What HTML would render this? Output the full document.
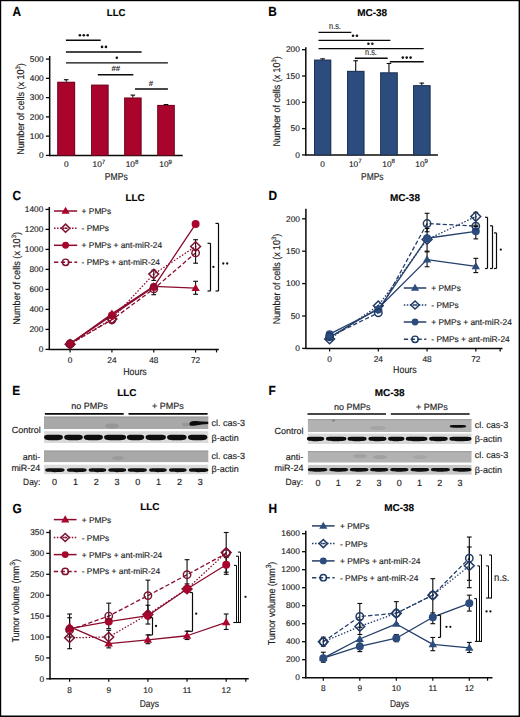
<!DOCTYPE html>
<html><head><meta charset="utf-8"><style>
html,body{margin:0;padding:0;background:#fff;}
svg{display:block;font-family:"Liberation Sans", sans-serif;}
text{stroke:#1c1c1c;stroke-width:0.15px;text-rendering:geometricPrecision;}
</style></head><body>
<svg width="520" height="717" viewBox="0 0 520 717">
<rect x="0" y="0" width="520" height="717" fill="#fff"/>
<g transform="translate(12.40,15.70) scale(0.9,1)"><text x="0" y="0" font-size="13.2" font-weight="bold" fill="#000">A</text></g>
<g transform="translate(116.10,16.40) scale(0.9666,1)"><text x="0" y="0" font-size="9.9" text-anchor="middle" font-weight="bold" fill="#000">LLC</text></g>
<line x1="49.70" y1="56.00" x2="49.70" y2="156.10" stroke="#0a0a0a" stroke-width="1.5" stroke-linecap="butt"/>
<line x1="49.10" y1="155.50" x2="182.70" y2="155.50" stroke="#0a0a0a" stroke-width="1.5" stroke-linecap="butt"/>
<line x1="45.90" y1="155.40" x2="49.70" y2="155.40" stroke="#0a0a0a" stroke-width="1.3" stroke-linecap="butt"/>
<text x="43.70" y="158.15" font-size="8.3" text-anchor="end" font-weight="normal" fill="#1c1c1c" >0</text>
<line x1="45.90" y1="136.14" x2="49.70" y2="136.14" stroke="#0a0a0a" stroke-width="1.3" stroke-linecap="butt"/>
<text x="43.70" y="138.89" font-size="8.3" text-anchor="end" font-weight="normal" fill="#1c1c1c" >100</text>
<line x1="45.90" y1="116.88" x2="49.70" y2="116.88" stroke="#0a0a0a" stroke-width="1.3" stroke-linecap="butt"/>
<text x="43.70" y="119.63" font-size="8.3" text-anchor="end" font-weight="normal" fill="#1c1c1c" >200</text>
<line x1="45.90" y1="97.62" x2="49.70" y2="97.62" stroke="#0a0a0a" stroke-width="1.3" stroke-linecap="butt"/>
<text x="43.70" y="100.37" font-size="8.3" text-anchor="end" font-weight="normal" fill="#1c1c1c" >300</text>
<line x1="45.90" y1="78.36" x2="49.70" y2="78.36" stroke="#0a0a0a" stroke-width="1.3" stroke-linecap="butt"/>
<text x="43.70" y="81.11" font-size="8.3" text-anchor="end" font-weight="normal" fill="#1c1c1c" >400</text>
<line x1="45.90" y1="59.10" x2="49.70" y2="59.10" stroke="#0a0a0a" stroke-width="1.3" stroke-linecap="butt"/>
<text x="43.70" y="61.85" font-size="8.3" text-anchor="end" font-weight="normal" fill="#1c1c1c" >500</text>
<rect x="57.30" y="81.83" width="17.80" height="73.57" fill="#a8042c" />
<rect x="57.75" y="82.28" width="16.90" height="73.12" fill="none" stroke="#5e0a1e" stroke-width="0.9" stroke-opacity="0.8"/>
<line x1="66.20" y1="81.83" x2="66.20" y2="79.71" stroke="#0a0a0a" stroke-width="1.1" stroke-linecap="butt"/>
<line x1="63.90" y1="79.71" x2="68.50" y2="79.71" stroke="#0a0a0a" stroke-width="1.1" stroke-linecap="butt"/>
<rect x="91.10" y="84.72" width="17.40" height="70.68" fill="#a8042c" />
<rect x="91.55" y="85.17" width="16.50" height="70.23" fill="none" stroke="#5e0a1e" stroke-width="0.9" stroke-opacity="0.8"/>
<rect x="124.20" y="97.62" width="17.30" height="57.78" fill="#a8042c" />
<rect x="124.65" y="98.07" width="16.40" height="57.33" fill="none" stroke="#5e0a1e" stroke-width="0.9" stroke-opacity="0.8"/>
<line x1="132.85" y1="97.62" x2="132.85" y2="95.12" stroke="#0a0a0a" stroke-width="1.1" stroke-linecap="butt"/>
<line x1="130.55" y1="95.12" x2="135.15" y2="95.12" stroke="#0a0a0a" stroke-width="1.1" stroke-linecap="butt"/>
<rect x="157.30" y="104.94" width="17.40" height="50.46" fill="#a8042c" />
<rect x="157.75" y="105.39" width="16.50" height="50.01" fill="none" stroke="#5e0a1e" stroke-width="0.9" stroke-opacity="0.8"/>
<line x1="166.00" y1="104.94" x2="166.00" y2="104.55" stroke="#0a0a0a" stroke-width="1.1" stroke-linecap="butt"/>
<line x1="163.70" y1="104.55" x2="168.30" y2="104.55" stroke="#0a0a0a" stroke-width="1.1" stroke-linecap="butt"/>
<text x="66.20" y="167.10" font-size="8.3" text-anchor="middle" font-weight="normal" fill="#1c1c1c" >0</text>
<text x="98.90" y="167.10" font-size="8.3" text-anchor="middle" fill="#1c1c1c">10<tspan dy="-3.3" font-size="6.14">7</tspan></text>
<text x="132.00" y="167.10" font-size="8.3" text-anchor="middle" fill="#1c1c1c">10<tspan dy="-3.3" font-size="6.14">8</tspan></text>
<text x="165.60" y="167.10" font-size="8.3" text-anchor="middle" fill="#1c1c1c">10<tspan dy="-3.3" font-size="6.14">9</tspan></text>
<g transform="translate(116.30,180.40) scale(0.8586,1)"><text x="0" y="0" font-size="10" text-anchor="middle" font-weight="normal" fill="#1c1c1c">PMPs</text></g>
<g transform="translate(23.90,154.70) rotate(-90) scale(0.9012,1)"><text x="0" y="0" font-size="10" fill="#1c1c1c">Number of cells (x 10<tspan dy="-3.8" font-size="6.50">3</tspan><tspan dy="3.8">)</tspan></text></g>
<line x1="65.90" y1="40.30" x2="100.70" y2="40.30" stroke="#0a0a0a" stroke-width="1.4" stroke-linecap="butt"/>
<circle cx="79.90" cy="35.20" r="1.3" fill="#111"/>
<circle cx="83.80" cy="35.20" r="1.3" fill="#111"/>
<circle cx="87.70" cy="35.20" r="1.3" fill="#111"/>
<line x1="65.90" y1="52.00" x2="141.60" y2="52.00" stroke="#0a0a0a" stroke-width="1.4" stroke-linecap="butt"/>
<circle cx="102.05" cy="46.90" r="1.3" fill="#111"/>
<circle cx="105.95" cy="46.90" r="1.3" fill="#111"/>
<line x1="65.90" y1="62.90" x2="167.90" y2="62.90" stroke="#0a0a0a" stroke-width="1.4" stroke-linecap="butt"/>
<circle cx="116.80" cy="57.70" r="1.3" fill="#111"/>
<line x1="97.80" y1="74.70" x2="133.30" y2="74.70" stroke="#0a0a0a" stroke-width="1.4" stroke-linecap="butt"/>
<text x="115.70" y="71.30" font-size="7.4" text-anchor="middle" font-weight="normal" fill="#0a0a0a" font-style="italic">##</text>
<line x1="135.00" y1="89.00" x2="167.90" y2="89.00" stroke="#0a0a0a" stroke-width="1.4" stroke-linecap="butt"/>
<text x="150.90" y="85.70" font-size="7.4" text-anchor="middle" font-weight="normal" fill="#0a0a0a" font-style="italic">#</text>
<g transform="translate(268.30,15.70) scale(0.9,1)"><text x="0" y="0" font-size="13.2" font-weight="bold" fill="#000">B</text></g>
<g transform="translate(372.20,16.40) scale(1.0100,1)"><text x="0" y="0" font-size="9.9" text-anchor="middle" font-weight="bold" fill="#000">MC-38</text></g>
<line x1="305.80" y1="47.20" x2="305.80" y2="155.50" stroke="#0a0a0a" stroke-width="1.5" stroke-linecap="butt"/>
<line x1="305.20" y1="154.90" x2="437.90" y2="154.90" stroke="#0a0a0a" stroke-width="1.5" stroke-linecap="butt"/>
<line x1="302.00" y1="154.90" x2="305.80" y2="154.90" stroke="#0a0a0a" stroke-width="1.3" stroke-linecap="butt"/>
<text x="299.80" y="157.65" font-size="8.3" text-anchor="end" font-weight="normal" fill="#1c1c1c" >0</text>
<line x1="302.00" y1="128.60" x2="305.80" y2="128.60" stroke="#0a0a0a" stroke-width="1.3" stroke-linecap="butt"/>
<text x="299.80" y="131.35" font-size="8.3" text-anchor="end" font-weight="normal" fill="#1c1c1c" >50</text>
<line x1="302.00" y1="102.30" x2="305.80" y2="102.30" stroke="#0a0a0a" stroke-width="1.3" stroke-linecap="butt"/>
<text x="299.80" y="105.05" font-size="8.3" text-anchor="end" font-weight="normal" fill="#1c1c1c" >100</text>
<line x1="302.00" y1="76.00" x2="305.80" y2="76.00" stroke="#0a0a0a" stroke-width="1.3" stroke-linecap="butt"/>
<text x="299.80" y="78.75" font-size="8.3" text-anchor="end" font-weight="normal" fill="#1c1c1c" >150</text>
<line x1="302.00" y1="49.70" x2="305.80" y2="49.70" stroke="#0a0a0a" stroke-width="1.3" stroke-linecap="butt"/>
<text x="299.80" y="52.45" font-size="8.3" text-anchor="end" font-weight="normal" fill="#1c1c1c" >200</text>
<rect x="314.00" y="59.69" width="17.20" height="95.21" fill="#2d4c7e" />
<rect x="314.45" y="60.14" width="16.30" height="94.76" fill="none" stroke="#1a2a48" stroke-width="0.9" stroke-opacity="0.8"/>
<line x1="322.60" y1="59.69" x2="322.60" y2="58.80" stroke="#0a0a0a" stroke-width="1.1" stroke-linecap="butt"/>
<line x1="320.30" y1="58.80" x2="324.90" y2="58.80" stroke="#0a0a0a" stroke-width="1.1" stroke-linecap="butt"/>
<rect x="347.00" y="70.90" width="17.40" height="84.00" fill="#2d4c7e" />
<rect x="347.45" y="71.35" width="16.50" height="83.55" fill="none" stroke="#1a2a48" stroke-width="0.9" stroke-opacity="0.8"/>
<line x1="355.70" y1="70.90" x2="355.70" y2="60.75" stroke="#0a0a0a" stroke-width="1.1" stroke-linecap="butt"/>
<line x1="353.40" y1="60.75" x2="358.00" y2="60.75" stroke="#0a0a0a" stroke-width="1.1" stroke-linecap="butt"/>
<rect x="380.20" y="72.42" width="17.50" height="82.48" fill="#2d4c7e" />
<rect x="380.65" y="72.87" width="16.60" height="82.03" fill="none" stroke="#1a2a48" stroke-width="0.9" stroke-opacity="0.8"/>
<line x1="388.95" y1="72.42" x2="388.95" y2="63.48" stroke="#0a0a0a" stroke-width="1.1" stroke-linecap="butt"/>
<line x1="386.65" y1="63.48" x2="391.25" y2="63.48" stroke="#0a0a0a" stroke-width="1.1" stroke-linecap="butt"/>
<rect x="413.10" y="85.20" width="17.40" height="69.70" fill="#2d4c7e" />
<rect x="413.55" y="85.66" width="16.50" height="69.25" fill="none" stroke="#1a2a48" stroke-width="0.9" stroke-opacity="0.8"/>
<line x1="421.80" y1="85.20" x2="421.80" y2="83.10" stroke="#0a0a0a" stroke-width="1.1" stroke-linecap="butt"/>
<line x1="419.50" y1="83.10" x2="424.10" y2="83.10" stroke="#0a0a0a" stroke-width="1.1" stroke-linecap="butt"/>
<text x="322.50" y="166.70" font-size="8.3" text-anchor="middle" font-weight="normal" fill="#1c1c1c" >0</text>
<text x="355.30" y="166.70" font-size="8.3" text-anchor="middle" fill="#1c1c1c">10<tspan dy="-3.3" font-size="6.14">7</tspan></text>
<text x="388.60" y="166.70" font-size="8.3" text-anchor="middle" fill="#1c1c1c">10<tspan dy="-3.3" font-size="6.14">8</tspan></text>
<text x="421.60" y="166.70" font-size="8.3" text-anchor="middle" fill="#1c1c1c">10<tspan dy="-3.3" font-size="6.14">9</tspan></text>
<g transform="translate(372.30,180.20) scale(0.8399,1)"><text x="0" y="0" font-size="10" text-anchor="middle" font-weight="normal" fill="#1c1c1c">PMPs</text></g>
<g transform="translate(280.10,146.60) rotate(-90) scale(0.8904,1)"><text x="0" y="0" font-size="10" fill="#1c1c1c">Number of cells (x 10<tspan dy="-3.8" font-size="6.50">3</tspan><tspan dy="3.8">)</tspan></text></g>
<line x1="318.50" y1="32.40" x2="351.30" y2="32.40" stroke="#0a0a0a" stroke-width="1.4" stroke-linecap="butt"/>
<g transform="translate(335.00,28.90) scale(0.8320,1)"><text x="0" y="0" font-size="8.8" text-anchor="middle" font-weight="normal" fill="#333">n.s.</text></g>
<line x1="318.50" y1="40.40" x2="390.40" y2="40.40" stroke="#0a0a0a" stroke-width="1.4" stroke-linecap="butt"/>
<circle cx="353.05" cy="35.80" r="1.3" fill="#111"/>
<circle cx="356.95" cy="35.80" r="1.3" fill="#111"/>
<line x1="318.50" y1="48.60" x2="423.70" y2="48.60" stroke="#0a0a0a" stroke-width="1.4" stroke-linecap="butt"/>
<circle cx="368.45" cy="43.80" r="1.3" fill="#111"/>
<circle cx="372.35" cy="43.80" r="1.3" fill="#111"/>
<line x1="354.90" y1="58.20" x2="387.70" y2="58.20" stroke="#0a0a0a" stroke-width="1.4" stroke-linecap="butt"/>
<g transform="translate(371.00,55.30) scale(0.8320,1)"><text x="0" y="0" font-size="8.8" text-anchor="middle" font-weight="normal" fill="#333">n.s.</text></g>
<line x1="389.80" y1="61.80" x2="423.70" y2="61.80" stroke="#0a0a0a" stroke-width="1.4" stroke-linecap="butt"/>
<circle cx="402.80" cy="57.60" r="1.3" fill="#111"/>
<circle cx="406.70" cy="57.60" r="1.3" fill="#111"/>
<circle cx="410.60" cy="57.60" r="1.3" fill="#111"/>
<g transform="translate(12.40,200.00) scale(0.9,1)"><text x="0" y="0" font-size="13.2" font-weight="bold" fill="#000">C</text></g>
<g transform="translate(135.00,200.80) scale(0.9978,1)"><text x="0" y="0" font-size="9.9" text-anchor="middle" font-weight="bold" fill="#000">LLC</text></g>
<line x1="49.30" y1="207.00" x2="49.30" y2="350.00" stroke="#0a0a0a" stroke-width="1.5" stroke-linecap="butt"/>
<line x1="48.70" y1="349.40" x2="218.80" y2="349.40" stroke="#0a0a0a" stroke-width="1.5" stroke-linecap="butt"/>
<line x1="45.50" y1="349.40" x2="49.30" y2="349.40" stroke="#0a0a0a" stroke-width="1.3" stroke-linecap="butt"/>
<text x="43.30" y="352.15" font-size="8.3" text-anchor="end" font-weight="normal" fill="#1c1c1c" >0</text>
<line x1="45.50" y1="329.40" x2="49.30" y2="329.40" stroke="#0a0a0a" stroke-width="1.3" stroke-linecap="butt"/>
<text x="43.30" y="332.15" font-size="8.3" text-anchor="end" font-weight="normal" fill="#1c1c1c" >200</text>
<line x1="45.50" y1="309.40" x2="49.30" y2="309.40" stroke="#0a0a0a" stroke-width="1.3" stroke-linecap="butt"/>
<text x="43.30" y="312.15" font-size="8.3" text-anchor="end" font-weight="normal" fill="#1c1c1c" >400</text>
<line x1="45.50" y1="289.40" x2="49.30" y2="289.40" stroke="#0a0a0a" stroke-width="1.3" stroke-linecap="butt"/>
<text x="43.30" y="292.15" font-size="8.3" text-anchor="end" font-weight="normal" fill="#1c1c1c" >600</text>
<line x1="45.50" y1="269.40" x2="49.30" y2="269.40" stroke="#0a0a0a" stroke-width="1.3" stroke-linecap="butt"/>
<text x="43.30" y="272.15" font-size="8.3" text-anchor="end" font-weight="normal" fill="#1c1c1c" >800</text>
<line x1="45.50" y1="249.40" x2="49.30" y2="249.40" stroke="#0a0a0a" stroke-width="1.3" stroke-linecap="butt"/>
<text x="43.30" y="252.15" font-size="8.3" text-anchor="end" font-weight="normal" fill="#1c1c1c" >1000</text>
<line x1="45.50" y1="229.40" x2="49.30" y2="229.40" stroke="#0a0a0a" stroke-width="1.3" stroke-linecap="butt"/>
<text x="43.30" y="232.15" font-size="8.3" text-anchor="end" font-weight="normal" fill="#1c1c1c" >1200</text>
<line x1="45.50" y1="209.40" x2="49.30" y2="209.40" stroke="#0a0a0a" stroke-width="1.3" stroke-linecap="butt"/>
<text x="43.30" y="212.15" font-size="8.3" text-anchor="end" font-weight="normal" fill="#1c1c1c" >1400</text>
<line x1="70.10" y1="349.40" x2="70.10" y2="352.40" stroke="#0a0a0a" stroke-width="1.2" stroke-linecap="butt"/>
<line x1="111.93" y1="349.40" x2="111.93" y2="352.40" stroke="#0a0a0a" stroke-width="1.2" stroke-linecap="butt"/>
<line x1="153.77" y1="349.40" x2="153.77" y2="352.40" stroke="#0a0a0a" stroke-width="1.2" stroke-linecap="butt"/>
<line x1="195.60" y1="349.40" x2="195.60" y2="352.40" stroke="#0a0a0a" stroke-width="1.2" stroke-linecap="butt"/>
<line x1="216.52" y1="349.40" x2="216.52" y2="352.40" stroke="#0a0a0a" stroke-width="1.2" stroke-linecap="butt"/>
<text x="70.10" y="363.30" font-size="8.3" text-anchor="middle" font-weight="normal" fill="#1c1c1c" >0</text>
<text x="111.93" y="363.30" font-size="8.3" text-anchor="middle" font-weight="normal" fill="#1c1c1c" >24</text>
<text x="153.77" y="363.30" font-size="8.3" text-anchor="middle" font-weight="normal" fill="#1c1c1c" >48</text>
<text x="195.60" y="363.30" font-size="8.3" text-anchor="middle" font-weight="normal" fill="#1c1c1c" >72</text>
<g transform="translate(135.00,374.80) scale(0.8848,1)"><text x="0" y="0" font-size="10" text-anchor="middle" font-weight="normal" fill="#1c1c1c">Hours</text></g>
<g transform="translate(20.00,324.70) rotate(-90) scale(0.9141,1)"><text x="0" y="0" font-size="10" fill="#1c1c1c">Number of cells (x 10<tspan dy="-3.8" font-size="6.50">3</tspan><tspan dy="3.8">)</tspan></text></g>
<polyline points="70.10,343.90 111.93,313.90 153.77,286.40 195.60,288.20" fill="none" stroke="#8a0c2e" stroke-width="1.3" stroke-linejoin="round"/>
<polyline points="70.10,344.20 111.93,318.90 153.77,274.10 195.60,246.50" fill="none" stroke="#8a0c2e" stroke-width="1.3" stroke-linejoin="round" stroke-dasharray="1.5 1.7"/>
<polyline points="70.10,343.60 111.93,315.40 153.77,286.90 195.60,224.10" fill="none" stroke="#8a0c2e" stroke-width="1.3" stroke-linejoin="round"/>
<polyline points="70.10,343.90 111.93,319.80 153.77,288.90 195.60,252.90" fill="none" stroke="#8a0c2e" stroke-width="1.3" stroke-linejoin="round" stroke-dasharray="4.3 2.3"/>
<line x1="153.77" y1="284.30" x2="153.77" y2="294.70" stroke="#0a0a0a" stroke-width="1.1" stroke-linecap="butt"/>
<line x1="151.37" y1="284.30" x2="156.17" y2="284.30" stroke="#0a0a0a" stroke-width="1.1" stroke-linecap="butt"/>
<line x1="151.37" y1="294.70" x2="156.17" y2="294.70" stroke="#0a0a0a" stroke-width="1.1" stroke-linecap="butt"/>
<line x1="195.60" y1="281.30" x2="195.60" y2="294.30" stroke="#0a0a0a" stroke-width="1.1" stroke-linecap="butt"/>
<line x1="193.20" y1="281.30" x2="198.00" y2="281.30" stroke="#0a0a0a" stroke-width="1.1" stroke-linecap="butt"/>
<line x1="193.20" y1="294.30" x2="198.00" y2="294.30" stroke="#0a0a0a" stroke-width="1.1" stroke-linecap="butt"/>
<line x1="153.77" y1="270.20" x2="153.77" y2="280.40" stroke="#0a0a0a" stroke-width="1.1" stroke-linecap="butt"/>
<line x1="151.37" y1="270.20" x2="156.17" y2="270.20" stroke="#0a0a0a" stroke-width="1.1" stroke-linecap="butt"/>
<line x1="151.37" y1="280.40" x2="156.17" y2="280.40" stroke="#0a0a0a" stroke-width="1.1" stroke-linecap="butt"/>
<line x1="195.60" y1="239.70" x2="195.60" y2="263.20" stroke="#0a0a0a" stroke-width="1.1" stroke-linecap="butt"/>
<line x1="193.20" y1="239.70" x2="198.00" y2="239.70" stroke="#0a0a0a" stroke-width="1.1" stroke-linecap="butt"/>
<line x1="193.20" y1="263.20" x2="198.00" y2="263.20" stroke="#0a0a0a" stroke-width="1.1" stroke-linecap="butt"/>
<line x1="195.60" y1="222.60" x2="195.60" y2="225.40" stroke="#0a0a0a" stroke-width="1.1" stroke-linecap="butt"/>
<line x1="193.20" y1="222.60" x2="198.00" y2="222.60" stroke="#0a0a0a" stroke-width="1.1" stroke-linecap="butt"/>
<line x1="193.20" y1="225.40" x2="198.00" y2="225.40" stroke="#0a0a0a" stroke-width="1.1" stroke-linecap="butt"/>
<polygon points="70.10,339.58 74.30,346.78 65.90,346.78" fill="#a8042c"/>
<polygon points="111.93,309.58 116.13,316.78 107.73,316.78" fill="#a8042c"/>
<polygon points="153.77,282.08 157.97,289.28 149.57,289.28" fill="#a8042c"/>
<polygon points="195.60,283.88 199.80,291.08 191.40,291.08" fill="#a8042c"/>
<polygon points="70.10,339.50 75.00,344.20 70.10,348.90 65.20,344.20" fill="none" stroke="#7c1230" stroke-width="1.5"/>
<circle cx="70.10" cy="344.20" r="0.9" fill="#7c1230"/>
<polygon points="111.93,314.20 116.83,318.90 111.93,323.60 107.03,318.90" fill="none" stroke="#7c1230" stroke-width="1.5"/>
<circle cx="111.93" cy="318.90" r="0.9" fill="#7c1230"/>
<polygon points="153.77,269.40 158.67,274.10 153.77,278.80 148.87,274.10" fill="none" stroke="#7c1230" stroke-width="1.5"/>
<circle cx="153.77" cy="274.10" r="0.9" fill="#7c1230"/>
<polygon points="195.60,241.80 200.50,246.50 195.60,251.20 190.70,246.50" fill="none" stroke="#7c1230" stroke-width="1.5"/>
<circle cx="195.60" cy="246.50" r="0.9" fill="#7c1230"/>
<circle cx="70.10" cy="343.60" r="4.00" fill="#a8042c"/>
<circle cx="111.93" cy="315.40" r="4.00" fill="#a8042c"/>
<circle cx="153.77" cy="286.90" r="4.00" fill="#a8042c"/>
<circle cx="195.60" cy="224.10" r="4.00" fill="#a8042c"/>
<circle cx="70.10" cy="343.90" r="3.70" fill="none" stroke="#7c1230" stroke-width="1.45"/>
<circle cx="111.93" cy="319.80" r="3.70" fill="none" stroke="#7c1230" stroke-width="1.45"/>
<circle cx="153.77" cy="288.90" r="3.70" fill="none" stroke="#7c1230" stroke-width="1.45"/>
<circle cx="195.60" cy="252.90" r="3.70" fill="none" stroke="#7c1230" stroke-width="1.45"/>
<line x1="54.00" y1="211.00" x2="77.20" y2="211.00" stroke="#8a0c2e" stroke-width="1.5" stroke-linecap="butt"/>
<polygon points="65.60,206.77 69.72,213.82 61.48,213.82" fill="#a8042c"/>
<text x="81.60" y="214.05" font-size="8.4" text-anchor="start" font-weight="normal" fill="#1c1c1c" >+ PMPs</text>
<line x1="54.00" y1="228.20" x2="77.20" y2="228.20" stroke="#8a0c2e" stroke-width="1.5" stroke-linecap="butt" stroke-dasharray="1.5 1.5"/>
<polygon points="65.60,224.16 69.81,228.20 65.60,232.24 61.39,228.20" fill="none" stroke="#7c1230" stroke-width="1.5"/>
<circle cx="65.60" cy="228.20" r="0.9" fill="#7c1230"/>
<text x="81.60" y="231.25" font-size="8.4" text-anchor="start" font-weight="normal" fill="#1c1c1c" >- PMPs</text>
<line x1="54.00" y1="245.30" x2="77.20" y2="245.30" stroke="#8a0c2e" stroke-width="1.5" stroke-linecap="butt"/>
<circle cx="65.60" cy="245.30" r="3.44" fill="#a8042c"/>
<text x="81.60" y="248.35" font-size="8.4" text-anchor="start" font-weight="normal" fill="#1c1c1c" >+ PMPs + ant-miR-24</text>
<line x1="54.00" y1="262.30" x2="77.20" y2="262.30" stroke="#8a0c2e" stroke-width="1.5" stroke-linecap="butt" stroke-dasharray="4.3 2.5"/>
<circle cx="65.60" cy="262.30" r="3.18" fill="none" stroke="#7c1230" stroke-width="1.45"/>
<text x="81.60" y="265.35" font-size="8.4" text-anchor="start" font-weight="normal" fill="#1c1c1c" >- PMPs + ant-miR-24</text>
<line x1="210.50" y1="243.30" x2="210.50" y2="291.00" stroke="#0a0a0a" stroke-width="1.2" stroke-linecap="butt"/>
<line x1="207.50" y1="243.30" x2="210.50" y2="243.30" stroke="#0a0a0a" stroke-width="1.2" stroke-linecap="butt"/>
<line x1="207.50" y1="291.00" x2="210.50" y2="291.00" stroke="#0a0a0a" stroke-width="1.2" stroke-linecap="butt"/>
<circle cx="213.40" cy="266.90" r="1.15" fill="#111"/>
<line x1="218.50" y1="223.40" x2="218.50" y2="291.00" stroke="#0a0a0a" stroke-width="1.2" stroke-linecap="butt"/>
<line x1="215.50" y1="223.40" x2="218.50" y2="223.40" stroke="#0a0a0a" stroke-width="1.2" stroke-linecap="butt"/>
<line x1="215.50" y1="291.00" x2="218.50" y2="291.00" stroke="#0a0a0a" stroke-width="1.2" stroke-linecap="butt"/>
<circle cx="223.30" cy="263.50" r="1.15" fill="#111"/>
<circle cx="227.20" cy="263.50" r="1.15" fill="#111"/>
<g transform="translate(268.50,200.40) scale(0.9,1)"><text x="0" y="0" font-size="13.2" font-weight="bold" fill="#000">D</text></g>
<g transform="translate(405.00,201.00) scale(1.0100,1)"><text x="0" y="0" font-size="9.9" text-anchor="middle" font-weight="bold" fill="#000">MC-38</text></g>
<line x1="305.90" y1="208.70" x2="305.90" y2="349.00" stroke="#0a0a0a" stroke-width="1.5" stroke-linecap="butt"/>
<line x1="305.30" y1="348.40" x2="502.50" y2="348.40" stroke="#0a0a0a" stroke-width="1.5" stroke-linecap="butt"/>
<line x1="302.10" y1="348.40" x2="305.90" y2="348.40" stroke="#0a0a0a" stroke-width="1.3" stroke-linecap="butt"/>
<text x="299.90" y="351.15" font-size="8.3" text-anchor="end" font-weight="normal" fill="#1c1c1c" >0</text>
<line x1="302.10" y1="316.00" x2="305.90" y2="316.00" stroke="#0a0a0a" stroke-width="1.3" stroke-linecap="butt"/>
<text x="299.90" y="318.75" font-size="8.3" text-anchor="end" font-weight="normal" fill="#1c1c1c" >50</text>
<line x1="302.10" y1="283.60" x2="305.90" y2="283.60" stroke="#0a0a0a" stroke-width="1.3" stroke-linecap="butt"/>
<text x="299.90" y="286.35" font-size="8.3" text-anchor="end" font-weight="normal" fill="#1c1c1c" >100</text>
<line x1="302.10" y1="251.20" x2="305.90" y2="251.20" stroke="#0a0a0a" stroke-width="1.3" stroke-linecap="butt"/>
<text x="299.90" y="253.95" font-size="8.3" text-anchor="end" font-weight="normal" fill="#1c1c1c" >150</text>
<line x1="302.10" y1="218.80" x2="305.90" y2="218.80" stroke="#0a0a0a" stroke-width="1.3" stroke-linecap="butt"/>
<text x="299.90" y="221.55" font-size="8.3" text-anchor="end" font-weight="normal" fill="#1c1c1c" >200</text>
<line x1="329.60" y1="348.40" x2="329.60" y2="351.40" stroke="#0a0a0a" stroke-width="1.2" stroke-linecap="butt"/>
<line x1="378.33" y1="348.40" x2="378.33" y2="351.40" stroke="#0a0a0a" stroke-width="1.2" stroke-linecap="butt"/>
<line x1="427.07" y1="348.40" x2="427.07" y2="351.40" stroke="#0a0a0a" stroke-width="1.2" stroke-linecap="butt"/>
<line x1="475.80" y1="348.40" x2="475.80" y2="351.40" stroke="#0a0a0a" stroke-width="1.2" stroke-linecap="butt"/>
<line x1="500.17" y1="348.40" x2="500.17" y2="351.40" stroke="#0a0a0a" stroke-width="1.2" stroke-linecap="butt"/>
<text x="329.60" y="362.00" font-size="8.3" text-anchor="middle" font-weight="normal" fill="#1c1c1c" >0</text>
<text x="378.33" y="362.00" font-size="8.3" text-anchor="middle" font-weight="normal" fill="#1c1c1c" >24</text>
<text x="427.07" y="362.00" font-size="8.3" text-anchor="middle" font-weight="normal" fill="#1c1c1c" >48</text>
<text x="475.80" y="362.00" font-size="8.3" text-anchor="middle" font-weight="normal" fill="#1c1c1c" >72</text>
<g transform="translate(404.90,373.00) scale(0.8848,1)"><text x="0" y="0" font-size="10" text-anchor="middle" font-weight="normal" fill="#1c1c1c">Hours</text></g>
<g transform="translate(280.10,324.30) rotate(-90) scale(0.8924,1)"><text x="0" y="0" font-size="10" fill="#1c1c1c">Number of cells (x 10<tspan dy="-3.8" font-size="6.50">3</tspan><tspan dy="3.8">)</tspan></text></g>
<polyline points="329.60,337.38 378.33,308.22 427.07,259.62 475.80,266.43" fill="none" stroke="#243e6a" stroke-width="1.3" stroke-linejoin="round"/>
<polyline points="329.60,339.00 378.33,305.63 427.07,239.54 475.80,216.53" fill="none" stroke="#243e6a" stroke-width="1.3" stroke-linejoin="round" stroke-dasharray="1.5 1.7"/>
<polyline points="329.60,334.14 378.33,309.52 427.07,238.24 475.80,231.31" fill="none" stroke="#243e6a" stroke-width="1.3" stroke-linejoin="round"/>
<polyline points="329.60,336.74 378.33,312.76 427.07,223.53 475.80,226.12" fill="none" stroke="#243e6a" stroke-width="1.3" stroke-linejoin="round" stroke-dasharray="4.3 2.3"/>
<line x1="427.07" y1="251.85" x2="427.07" y2="266.75" stroke="#0a0a0a" stroke-width="1.1" stroke-linecap="butt"/>
<line x1="424.67" y1="251.85" x2="429.47" y2="251.85" stroke="#0a0a0a" stroke-width="1.1" stroke-linecap="butt"/>
<line x1="424.67" y1="266.75" x2="429.47" y2="266.75" stroke="#0a0a0a" stroke-width="1.1" stroke-linecap="butt"/>
<line x1="475.80" y1="258.33" x2="475.80" y2="272.58" stroke="#0a0a0a" stroke-width="1.1" stroke-linecap="butt"/>
<line x1="473.40" y1="258.33" x2="478.20" y2="258.33" stroke="#0a0a0a" stroke-width="1.1" stroke-linecap="butt"/>
<line x1="473.40" y1="272.58" x2="478.20" y2="272.58" stroke="#0a0a0a" stroke-width="1.1" stroke-linecap="butt"/>
<line x1="475.80" y1="212.32" x2="475.80" y2="225.28" stroke="#0a0a0a" stroke-width="1.1" stroke-linecap="butt"/>
<line x1="473.40" y1="212.32" x2="478.20" y2="212.32" stroke="#0a0a0a" stroke-width="1.1" stroke-linecap="butt"/>
<line x1="473.40" y1="225.28" x2="478.20" y2="225.28" stroke="#0a0a0a" stroke-width="1.1" stroke-linecap="butt"/>
<line x1="427.07" y1="228.52" x2="427.07" y2="251.20" stroke="#0a0a0a" stroke-width="1.1" stroke-linecap="butt"/>
<line x1="424.67" y1="228.52" x2="429.47" y2="228.52" stroke="#0a0a0a" stroke-width="1.1" stroke-linecap="butt"/>
<line x1="424.67" y1="251.20" x2="429.47" y2="251.20" stroke="#0a0a0a" stroke-width="1.1" stroke-linecap="butt"/>
<line x1="475.80" y1="226.58" x2="475.80" y2="238.89" stroke="#0a0a0a" stroke-width="1.1" stroke-linecap="butt"/>
<line x1="473.40" y1="226.58" x2="478.20" y2="226.58" stroke="#0a0a0a" stroke-width="1.1" stroke-linecap="butt"/>
<line x1="473.40" y1="238.89" x2="478.20" y2="238.89" stroke="#0a0a0a" stroke-width="1.1" stroke-linecap="butt"/>
<line x1="427.07" y1="213.29" x2="427.07" y2="231.76" stroke="#0a0a0a" stroke-width="1.1" stroke-linecap="butt"/>
<line x1="424.67" y1="213.29" x2="429.47" y2="213.29" stroke="#0a0a0a" stroke-width="1.1" stroke-linecap="butt"/>
<line x1="424.67" y1="231.76" x2="429.47" y2="231.76" stroke="#0a0a0a" stroke-width="1.1" stroke-linecap="butt"/>
<polygon points="329.60,333.06 333.80,340.26 325.40,340.26" fill="#2d4c7e"/>
<polygon points="378.33,303.90 382.53,311.10 374.13,311.10" fill="#2d4c7e"/>
<polygon points="427.07,255.30 431.27,262.50 422.87,262.50" fill="#2d4c7e"/>
<polygon points="475.80,262.11 480.00,269.31 471.60,269.31" fill="#2d4c7e"/>
<polygon points="329.60,334.30 334.50,339.00 329.60,343.70 324.70,339.00" fill="none" stroke="#1f3a66" stroke-width="1.5"/>
<circle cx="329.60" cy="339.00" r="0.9" fill="#1f3a66"/>
<polygon points="378.33,300.93 383.23,305.63 378.33,310.33 373.43,305.63" fill="none" stroke="#1f3a66" stroke-width="1.5"/>
<circle cx="378.33" cy="305.63" r="0.9" fill="#1f3a66"/>
<polygon points="427.07,234.84 431.97,239.54 427.07,244.24 422.17,239.54" fill="none" stroke="#1f3a66" stroke-width="1.5"/>
<circle cx="427.07" cy="239.54" r="0.9" fill="#1f3a66"/>
<polygon points="475.80,211.83 480.70,216.53 475.80,221.23 470.90,216.53" fill="none" stroke="#1f3a66" stroke-width="1.5"/>
<circle cx="475.80" cy="216.53" r="0.9" fill="#1f3a66"/>
<circle cx="329.60" cy="334.14" r="4.00" fill="#2d4c7e"/>
<circle cx="378.33" cy="309.52" r="4.00" fill="#2d4c7e"/>
<circle cx="427.07" cy="238.24" r="4.00" fill="#2d4c7e"/>
<circle cx="475.80" cy="231.31" r="4.00" fill="#2d4c7e"/>
<circle cx="329.60" cy="336.74" r="3.70" fill="none" stroke="#1f3a66" stroke-width="1.45"/>
<circle cx="378.33" cy="312.76" r="3.70" fill="none" stroke="#1f3a66" stroke-width="1.45"/>
<circle cx="427.07" cy="223.53" r="3.70" fill="none" stroke="#1f3a66" stroke-width="1.45"/>
<circle cx="475.80" cy="226.12" r="3.70" fill="none" stroke="#1f3a66" stroke-width="1.45"/>
<line x1="403.80" y1="288.00" x2="426.30" y2="288.00" stroke="#243e6a" stroke-width="1.5" stroke-linecap="butt"/>
<polygon points="415.05,283.77 419.17,290.82 410.93,290.82" fill="#2d4c7e"/>
<text x="431.30" y="291.05" font-size="8.4" text-anchor="start" font-weight="normal" fill="#1c1c1c" >+ PMPs</text>
<line x1="403.80" y1="305.00" x2="426.30" y2="305.00" stroke="#243e6a" stroke-width="1.5" stroke-linecap="butt" stroke-dasharray="1.5 1.5"/>
<polygon points="415.05,300.96 419.26,305.00 415.05,309.04 410.84,305.00" fill="none" stroke="#1f3a66" stroke-width="1.5"/>
<circle cx="415.05" cy="305.00" r="0.9" fill="#1f3a66"/>
<text x="431.30" y="308.05" font-size="8.4" text-anchor="start" font-weight="normal" fill="#1c1c1c" >- PMPs</text>
<line x1="403.80" y1="322.00" x2="426.30" y2="322.00" stroke="#243e6a" stroke-width="1.5" stroke-linecap="butt"/>
<circle cx="415.05" cy="322.00" r="3.44" fill="#2d4c7e"/>
<text x="431.30" y="325.05" font-size="8.4" text-anchor="start" font-weight="normal" fill="#1c1c1c" >+ PMPs + ant-miR-24</text>
<line x1="403.80" y1="339.30" x2="426.30" y2="339.30" stroke="#243e6a" stroke-width="1.5" stroke-linecap="butt" stroke-dasharray="4.3 2.5"/>
<circle cx="415.05" cy="339.30" r="3.18" fill="none" stroke="#1f3a66" stroke-width="1.45"/>
<text x="431.30" y="342.35" font-size="8.4" text-anchor="start" font-weight="normal" fill="#1c1c1c" >- PMPs + ant-miR-24</text>
<line x1="487.50" y1="217.30" x2="487.50" y2="268.50" stroke="#0a0a0a" stroke-width="1.2" stroke-linecap="butt"/>
<line x1="485.00" y1="217.30" x2="487.50" y2="217.30" stroke="#0a0a0a" stroke-width="1.2" stroke-linecap="butt"/>
<line x1="485.00" y1="268.50" x2="487.50" y2="268.50" stroke="#0a0a0a" stroke-width="1.2" stroke-linecap="butt"/>
<line x1="492.50" y1="225.80" x2="492.50" y2="268.50" stroke="#0a0a0a" stroke-width="1.2" stroke-linecap="butt"/>
<line x1="490.00" y1="225.80" x2="492.50" y2="225.80" stroke="#0a0a0a" stroke-width="1.2" stroke-linecap="butt"/>
<line x1="490.00" y1="268.50" x2="492.50" y2="268.50" stroke="#0a0a0a" stroke-width="1.2" stroke-linecap="butt"/>
<line x1="496.50" y1="232.90" x2="496.50" y2="268.50" stroke="#0a0a0a" stroke-width="1.2" stroke-linecap="butt"/>
<line x1="494.00" y1="232.90" x2="496.50" y2="232.90" stroke="#0a0a0a" stroke-width="1.2" stroke-linecap="butt"/>
<line x1="494.00" y1="268.50" x2="496.50" y2="268.50" stroke="#0a0a0a" stroke-width="1.2" stroke-linecap="butt"/>
<circle cx="500.80" cy="249.60" r="1.15" fill="#111"/>
<g transform="translate(12.30,395.20) scale(0.9,1)"><text x="0" y="0" font-size="13.2" font-weight="bold" fill="#000">E</text></g>
<g transform="translate(126.80,395.60) scale(0.9978,1)"><text x="0" y="0" font-size="9.9" text-anchor="middle" font-weight="bold" fill="#000">LLC</text></g>
<text x="89.60" y="409.00" font-size="9" text-anchor="middle" font-weight="normal" fill="#1c1c1c" >no PMPs</text>
<text x="167.80" y="409.40" font-size="9" text-anchor="middle" font-weight="normal" fill="#1c1c1c" >+ PMPs</text>
<line x1="44.80" y1="413.80" x2="123.70" y2="413.80" stroke="#0a0a0a" stroke-width="1.7" stroke-linecap="butt"/>
<line x1="128.50" y1="413.90" x2="207.60" y2="413.90" stroke="#0a0a0a" stroke-width="1.7" stroke-linecap="butt"/>
<rect x="44.00" y="416.60" width="164.30" height="12.40" fill="#a8a8a8" />
<rect x="44.00" y="416.60" width="164.30" height="1.00" fill="#9a9a9a" />
<rect x="44.00" y="431.20" width="164.30" height="11.80" fill="#dadada" />
<rect x="44.00" y="450.60" width="164.30" height="11.50" fill="#a8a8a8" />
<rect x="44.00" y="450.60" width="164.30" height="1.00" fill="#9a9a9a" />
<rect x="44.00" y="464.70" width="164.30" height="9.50" fill="#dadada" />
<path d="M44.10,437.30 C44.10,434.44 46.10,434.70 53.50,434.70 C60.90,434.70 62.90,434.44 62.90,437.30 C62.90,440.00 59.90,440.30 53.50,440.30 C47.10,440.30 44.10,440.00 44.10,437.30 Z" fill="#0e0e0e"/>
<path d="M64.20,437.30 C64.20,434.44 66.20,434.70 73.50,434.70 C80.80,434.70 82.80,434.44 82.80,437.30 C82.80,440.00 79.80,440.30 73.50,440.30 C67.20,440.30 64.20,440.00 64.20,437.30 Z" fill="#0e0e0e"/>
<path d="M83.80,437.30 C83.80,434.44 85.80,434.70 93.35,434.70 C100.90,434.70 102.90,434.44 102.90,437.30 C102.90,440.00 99.90,440.30 93.35,440.30 C86.80,440.30 83.80,440.00 83.80,437.30 Z" fill="#0e0e0e"/>
<path d="M104.10,437.30 C104.10,434.44 106.10,434.70 115.10,434.70 C124.10,434.70 126.10,434.44 126.10,437.30 C126.10,440.00 123.10,440.30 115.10,440.30 C107.10,440.30 104.10,440.00 104.10,437.30 Z" fill="#0e0e0e"/>
<path d="M126.90,437.30 C126.90,434.44 128.90,434.70 135.55,434.70 C142.20,434.70 144.20,434.44 144.20,437.30 C144.20,440.00 141.20,440.30 135.55,440.30 C129.90,440.30 126.90,440.00 126.90,437.30 Z" fill="#0e0e0e"/>
<path d="M145.60,437.30 C145.60,434.44 147.60,434.70 155.75,434.70 C163.90,434.70 165.90,434.44 165.90,437.30 C165.90,440.00 162.90,440.30 155.75,440.30 C148.60,440.30 145.60,440.00 145.60,437.30 Z" fill="#0e0e0e"/>
<path d="M167.10,437.30 C167.10,434.44 169.10,434.70 176.85,434.70 C184.60,434.70 186.60,434.44 186.60,437.30 C186.60,440.00 183.60,440.30 176.85,440.30 C170.10,440.30 167.10,440.00 167.10,437.30 Z" fill="#0e0e0e"/>
<path d="M188.00,437.30 C188.00,434.44 190.00,434.70 197.70,434.70 C205.40,434.70 207.40,434.44 207.40,437.30 C207.40,440.00 204.40,440.30 197.70,440.30 C191.00,440.30 188.00,440.00 188.00,437.30 Z" fill="#0e0e0e"/>
<path d="M45.20,470.10 C45.20,468.01 47.20,468.20 54.85,468.20 C62.50,468.20 64.50,468.01 64.50,470.10 C64.50,471.99 61.50,472.20 54.85,472.20 C48.20,472.20 45.20,471.99 45.20,470.10 Z" fill="#101010"/>
<path d="M67.00,470.10 C67.00,468.01 69.00,468.20 76.80,468.20 C84.60,468.20 86.60,468.01 86.60,470.10 C86.60,471.99 83.60,472.20 76.80,472.20 C70.00,472.20 67.00,471.99 67.00,470.10 Z" fill="#101010"/>
<path d="M88.70,470.10 C88.70,468.01 90.70,468.20 97.45,468.20 C104.20,468.20 106.20,468.01 106.20,470.10 C106.20,471.99 103.20,472.20 97.45,472.20 C91.70,472.20 88.70,471.99 88.70,470.10 Z" fill="#101010"/>
<path d="M108.30,470.10 C108.30,468.01 110.30,468.20 117.20,468.20 C124.10,468.20 126.10,468.01 126.10,470.10 C126.10,471.99 123.10,472.20 117.20,472.20 C111.30,472.20 108.30,471.99 108.30,470.10 Z" fill="#101010"/>
<path d="M127.80,470.10 C127.80,468.01 129.80,468.20 137.30,468.20 C144.80,468.20 146.80,468.01 146.80,470.10 C146.80,471.99 143.80,472.20 137.30,472.20 C130.80,472.20 127.80,471.99 127.80,470.10 Z" fill="#101010"/>
<path d="M149.10,470.10 C149.10,468.01 151.10,468.20 157.90,468.20 C164.70,468.20 166.70,468.01 166.70,470.10 C166.70,471.99 163.70,472.20 157.90,472.20 C152.10,472.20 149.10,471.99 149.10,470.10 Z" fill="#101010"/>
<path d="M169.00,470.10 C169.00,468.01 171.00,468.20 177.80,468.20 C184.60,468.20 186.60,468.01 186.60,470.10 C186.60,471.99 183.60,472.20 177.80,472.20 C172.00,472.20 169.00,471.99 169.00,470.10 Z" fill="#101010"/>
<path d="M188.90,470.10 C188.90,468.01 190.90,468.20 198.60,468.20 C206.30,468.20 208.30,468.01 208.30,470.10 C208.30,471.99 205.30,472.20 198.60,472.20 C191.90,472.20 188.90,471.99 188.90,470.10 Z" fill="#101010"/>
<path d="M189.3,424.2 C189.3,421.6 191.8,420.8 195.8,421.0 C200,421.3 204,421.6 208.2,421.7 L208.2,424.1 C204,424.3 200,425.0 195.8,425.5 C191.8,426.0 189.3,426.0 189.3,424.2 Z" fill="#0d0d0d"/><ellipse cx="186" cy="424.5" rx="4" ry="1.8" fill="#7a7a7a" opacity="0.4"/>
<ellipse cx="112.00" cy="426.00" rx="7" ry="2.5" fill="#7a7a7a" opacity="0.4"/>
<ellipse cx="118.00" cy="458.00" rx="6" ry="2" fill="#7a7a7a" opacity="0.3"/>
<text x="11.80" y="433.10" font-size="9" text-anchor="start" font-weight="normal" fill="#1c1c1c" >Control</text>
<text x="40.30" y="460.00" font-size="9" text-anchor="end" font-weight="normal" fill="#1c1c1c" >anti-</text>
<text x="40.40" y="470.60" font-size="9" text-anchor="end" font-weight="normal" fill="#1c1c1c" >miR-24</text>
<g transform="translate(23.10,484.90) scale(0.9295,1)"><text x="0" y="0" font-size="9" text-anchor="start" font-weight="normal" fill="#1c1c1c">Day:</text></g>
<text x="54.60" y="485.20" font-size="9" text-anchor="middle" font-weight="normal" fill="#1c1c1c" >0</text>
<text x="75.40" y="485.20" font-size="9" text-anchor="middle" font-weight="normal" fill="#1c1c1c" >1</text>
<text x="96.20" y="485.20" font-size="9" text-anchor="middle" font-weight="normal" fill="#1c1c1c" >2</text>
<text x="117.00" y="485.20" font-size="9" text-anchor="middle" font-weight="normal" fill="#1c1c1c" >3</text>
<text x="137.80" y="485.20" font-size="9" text-anchor="middle" font-weight="normal" fill="#1c1c1c" >0</text>
<text x="158.60" y="485.20" font-size="9" text-anchor="middle" font-weight="normal" fill="#1c1c1c" >1</text>
<text x="179.40" y="485.20" font-size="9" text-anchor="middle" font-weight="normal" fill="#1c1c1c" >2</text>
<text x="200.20" y="485.20" font-size="9" text-anchor="middle" font-weight="normal" fill="#1c1c1c" >3</text>
<text x="211.50" y="426.40" font-size="9" text-anchor="start" font-weight="normal" fill="#1c1c1c" >cl. cas-3</text>
<text x="211.50" y="440.50" font-size="9" text-anchor="start" font-weight="normal" fill="#1c1c1c" >β-actin</text>
<text x="211.50" y="458.70" font-size="9" text-anchor="start" font-weight="normal" fill="#1c1c1c" >cl. cas-3</text>
<text x="211.50" y="472.30" font-size="9" text-anchor="start" font-weight="normal" fill="#1c1c1c" >β-actin</text>
<g transform="translate(268.40,395.20) scale(0.9,1)"><text x="0" y="0" font-size="13.2" font-weight="bold" fill="#000">F</text></g>
<g transform="translate(389.70,396.00) scale(1.0100,1)"><text x="0" y="0" font-size="9.9" text-anchor="middle" font-weight="bold" fill="#000">MC-38</text></g>
<text x="352.20" y="409.70" font-size="9" text-anchor="middle" font-weight="normal" fill="#1c1c1c" >no PMPs</text>
<text x="431.80" y="409.70" font-size="9" text-anchor="middle" font-weight="normal" fill="#1c1c1c" >+ PMPs</text>
<line x1="307.50" y1="414.00" x2="386.00" y2="414.00" stroke="#0a0a0a" stroke-width="1.7" stroke-linecap="butt"/>
<line x1="390.80" y1="414.00" x2="469.60" y2="414.00" stroke="#0a0a0a" stroke-width="1.7" stroke-linecap="butt"/>
<rect x="307.90" y="419.20" width="163.60" height="12.80" fill="#b2b2b2" />
<rect x="307.90" y="419.20" width="163.60" height="1.00" fill="#9a9a9a" />
<rect x="307.90" y="433.60" width="163.60" height="10.40" fill="#d8d8d8" />
<rect x="307.90" y="451.20" width="163.60" height="11.30" fill="#b2b2b2" />
<rect x="307.90" y="451.20" width="163.60" height="1.00" fill="#9a9a9a" />
<rect x="307.90" y="464.90" width="163.60" height="9.70" fill="#c6c6c6" />
<path d="M306.90,438.80 C306.90,436.60 308.90,436.80 315.55,436.80 C322.20,436.80 324.20,436.60 324.20,438.80 C324.20,440.96 321.20,441.20 315.55,441.20 C309.90,441.20 306.90,440.96 306.90,438.80 Z" fill="#0e0e0e"/>
<path d="M326.00,438.80 C326.00,436.60 328.00,436.80 336.20,436.80 C344.40,436.80 346.40,436.60 346.40,438.80 C346.40,440.96 343.40,441.20 336.20,441.20 C329.00,441.20 326.00,440.96 326.00,438.80 Z" fill="#0e0e0e"/>
<path d="M347.60,438.80 C347.60,436.60 349.60,436.80 357.10,436.80 C364.60,436.80 366.60,436.60 366.60,438.80 C366.60,440.96 363.60,441.20 357.10,441.20 C350.60,441.20 347.60,440.96 347.60,438.80 Z" fill="#0e0e0e"/>
<path d="M368.40,438.80 C368.40,436.60 370.40,436.80 377.45,436.80 C384.50,436.80 386.50,436.60 386.50,438.80 C386.50,440.96 383.50,441.20 377.45,441.20 C371.40,441.20 368.40,440.96 368.40,438.80 Z" fill="#0e0e0e"/>
<path d="M388.10,438.80 C388.10,436.60 390.10,436.80 396.25,436.80 C402.40,436.80 404.40,436.60 404.40,438.80 C404.40,440.96 401.40,441.20 396.25,441.20 C391.10,441.20 388.10,440.96 388.10,438.80 Z" fill="#0e0e0e"/>
<path d="M405.80,438.80 C405.80,436.60 407.80,436.80 416.60,436.80 C425.40,436.80 427.40,436.60 427.40,438.80 C427.40,440.96 424.40,441.20 416.60,441.20 C408.80,441.20 405.80,440.96 405.80,438.80 Z" fill="#0e0e0e"/>
<path d="M429.10,438.80 C429.10,436.60 431.10,436.80 438.40,436.80 C445.70,436.80 447.70,436.60 447.70,438.80 C447.70,440.96 444.70,441.20 438.40,441.20 C432.10,441.20 429.10,440.96 429.10,438.80 Z" fill="#0e0e0e"/>
<path d="M449.40,438.80 C449.40,436.60 451.40,436.80 460.45,436.80 C469.50,436.80 471.50,436.60 471.50,438.80 C471.50,440.96 468.50,441.20 460.45,441.20 C452.40,441.20 449.40,440.96 449.40,438.80 Z" fill="#0e0e0e"/>
<path d="M307.80,469.80 C307.80,467.93 309.80,468.10 317.55,468.10 C325.30,468.10 327.30,467.93 327.30,469.80 C327.30,471.51 324.30,471.70 317.55,471.70 C310.80,471.70 307.80,471.51 307.80,469.80 Z" fill="#101010"/>
<path d="M329.40,469.80 C329.40,467.93 331.40,468.10 338.75,468.10 C346.10,468.10 348.10,467.93 348.10,469.80 C348.10,471.51 345.10,471.70 338.75,471.70 C332.40,471.70 329.40,471.51 329.40,469.80 Z" fill="#101010"/>
<path d="M349.80,469.80 C349.80,467.93 351.80,468.10 359.10,468.10 C366.40,468.10 368.40,467.93 368.40,469.80 C368.40,471.51 365.40,471.70 359.10,471.70 C352.80,471.70 349.80,471.51 349.80,469.80 Z" fill="#101010"/>
<path d="M370.10,469.80 C370.10,467.93 372.10,468.10 379.20,468.10 C386.30,468.10 388.30,467.93 388.30,469.80 C388.30,471.51 385.30,471.70 379.20,471.70 C373.10,471.70 370.10,471.51 370.10,469.80 Z" fill="#101010"/>
<path d="M390.20,469.80 C390.20,467.93 392.20,468.10 399.30,468.10 C406.40,468.10 408.40,467.93 408.40,469.80 C408.40,471.51 405.40,471.70 399.30,471.70 C393.20,471.70 390.20,471.51 390.20,469.80 Z" fill="#101010"/>
<path d="M410.60,469.80 C410.60,467.93 412.60,468.10 419.85,468.10 C427.10,468.10 429.10,467.93 429.10,469.80 C429.10,471.51 426.10,471.70 419.85,471.70 C413.60,471.70 410.60,471.51 410.60,469.80 Z" fill="#101010"/>
<path d="M430.90,469.80 C430.90,467.93 432.90,468.10 440.40,468.10 C447.90,468.10 449.90,467.93 449.90,469.80 C449.90,471.51 446.90,471.70 440.40,471.70 C433.90,471.70 430.90,471.51 430.90,469.80 Z" fill="#101010"/>
<path d="M452.50,469.80 C452.50,467.93 454.50,468.10 462.00,468.10 C469.50,468.10 471.50,467.93 471.50,469.80 C471.50,471.51 468.50,471.70 462.00,471.70 C455.50,471.70 452.50,471.51 452.50,469.80 Z" fill="#101010"/>
<path d="M449.8,426.3 C449.8,424.9 451.5,424.9 457.9,424.9 C464.3,424.9 466.1,424.9 466.1,426.3 C466.1,427.7 464.3,427.7 457.9,427.7 C451.5,427.7 449.8,427.7 449.8,426.3 Z" fill="#0d0d0d"/>
<ellipse cx="333.50" cy="420.40" rx="1.6" ry="1.0" fill="#7a7a7a" opacity="0.9"/>
<ellipse cx="378.00" cy="428.00" rx="8" ry="2" fill="#7a7a7a" opacity="0.25"/>
<ellipse cx="360.00" cy="456.00" rx="7" ry="2" fill="#7a7a7a" opacity="0.3"/>
<ellipse cx="380.00" cy="457.00" rx="7" ry="2" fill="#7a7a7a" opacity="0.3"/>
<ellipse cx="420.00" cy="457.00" rx="7" ry="2" fill="#7a7a7a" opacity="0.2"/>
<text x="274.50" y="434.30" font-size="9" text-anchor="start" font-weight="normal" fill="#1c1c1c" >Control</text>
<text x="303.20" y="459.50" font-size="9" text-anchor="end" font-weight="normal" fill="#1c1c1c" >anti-</text>
<text x="303.50" y="471.00" font-size="9" text-anchor="end" font-weight="normal" fill="#1c1c1c" >miR-24</text>
<g transform="translate(285.60,485.40) scale(0.9403,1)"><text x="0" y="0" font-size="9" text-anchor="start" font-weight="normal" fill="#1c1c1c">Day:</text></g>
<text x="318.00" y="485.50" font-size="9" text-anchor="middle" font-weight="normal" fill="#1c1c1c" >0</text>
<text x="338.30" y="485.50" font-size="9" text-anchor="middle" font-weight="normal" fill="#1c1c1c" >1</text>
<text x="358.60" y="485.50" font-size="9" text-anchor="middle" font-weight="normal" fill="#1c1c1c" >2</text>
<text x="378.90" y="485.50" font-size="9" text-anchor="middle" font-weight="normal" fill="#1c1c1c" >3</text>
<text x="399.20" y="485.50" font-size="9" text-anchor="middle" font-weight="normal" fill="#1c1c1c" >0</text>
<text x="419.50" y="485.50" font-size="9" text-anchor="middle" font-weight="normal" fill="#1c1c1c" >1</text>
<text x="439.80" y="485.50" font-size="9" text-anchor="middle" font-weight="normal" fill="#1c1c1c" >2</text>
<text x="460.10" y="485.50" font-size="9" text-anchor="middle" font-weight="normal" fill="#1c1c1c" >3</text>
<text x="474.80" y="428.10" font-size="9" text-anchor="start" font-weight="normal" fill="#1c1c1c" >cl. cas-3</text>
<text x="474.80" y="441.60" font-size="9" text-anchor="start" font-weight="normal" fill="#1c1c1c" >β-actin</text>
<text x="474.80" y="458.30" font-size="9" text-anchor="start" font-weight="normal" fill="#1c1c1c" >cl. cas-3</text>
<text x="474.80" y="472.50" font-size="9" text-anchor="start" font-weight="normal" fill="#1c1c1c" >β-actin</text>
<g transform="translate(12.50,513.00) scale(0.9,1)"><text x="0" y="0" font-size="13.2" font-weight="bold" fill="#000">G</text></g>
<g transform="translate(149.80,509.80) scale(0.9978,1)"><text x="0" y="0" font-size="9.9" text-anchor="middle" font-weight="bold" fill="#000">LLC</text></g>
<line x1="50.00" y1="529.80" x2="50.00" y2="679.40" stroke="#0a0a0a" stroke-width="1.5" stroke-linecap="butt"/>
<line x1="49.40" y1="678.80" x2="248.70" y2="678.80" stroke="#0a0a0a" stroke-width="1.5" stroke-linecap="butt"/>
<line x1="46.20" y1="678.80" x2="50.00" y2="678.80" stroke="#0a0a0a" stroke-width="1.3" stroke-linecap="butt"/>
<text x="44.00" y="681.55" font-size="8.3" text-anchor="end" font-weight="normal" fill="#1c1c1c" >0</text>
<line x1="46.20" y1="657.90" x2="50.00" y2="657.90" stroke="#0a0a0a" stroke-width="1.3" stroke-linecap="butt"/>
<text x="44.00" y="660.65" font-size="8.3" text-anchor="end" font-weight="normal" fill="#1c1c1c" >50</text>
<line x1="46.20" y1="637.00" x2="50.00" y2="637.00" stroke="#0a0a0a" stroke-width="1.3" stroke-linecap="butt"/>
<text x="44.00" y="639.75" font-size="8.3" text-anchor="end" font-weight="normal" fill="#1c1c1c" >100</text>
<line x1="46.20" y1="616.10" x2="50.00" y2="616.10" stroke="#0a0a0a" stroke-width="1.3" stroke-linecap="butt"/>
<text x="44.00" y="618.85" font-size="8.3" text-anchor="end" font-weight="normal" fill="#1c1c1c" >150</text>
<line x1="46.20" y1="595.20" x2="50.00" y2="595.20" stroke="#0a0a0a" stroke-width="1.3" stroke-linecap="butt"/>
<text x="44.00" y="597.95" font-size="8.3" text-anchor="end" font-weight="normal" fill="#1c1c1c" >200</text>
<line x1="46.20" y1="574.30" x2="50.00" y2="574.30" stroke="#0a0a0a" stroke-width="1.3" stroke-linecap="butt"/>
<text x="44.00" y="577.05" font-size="8.3" text-anchor="end" font-weight="normal" fill="#1c1c1c" >250</text>
<line x1="46.20" y1="553.40" x2="50.00" y2="553.40" stroke="#0a0a0a" stroke-width="1.3" stroke-linecap="butt"/>
<text x="44.00" y="556.15" font-size="8.3" text-anchor="end" font-weight="normal" fill="#1c1c1c" >300</text>
<line x1="46.20" y1="532.50" x2="50.00" y2="532.50" stroke="#0a0a0a" stroke-width="1.3" stroke-linecap="butt"/>
<text x="44.00" y="535.25" font-size="8.3" text-anchor="end" font-weight="normal" fill="#1c1c1c" >350</text>
<line x1="69.60" y1="678.80" x2="69.60" y2="681.80" stroke="#0a0a0a" stroke-width="1.2" stroke-linecap="butt"/>
<line x1="108.75" y1="678.80" x2="108.75" y2="681.80" stroke="#0a0a0a" stroke-width="1.2" stroke-linecap="butt"/>
<line x1="147.90" y1="678.80" x2="147.90" y2="681.80" stroke="#0a0a0a" stroke-width="1.2" stroke-linecap="butt"/>
<line x1="187.05" y1="678.80" x2="187.05" y2="681.80" stroke="#0a0a0a" stroke-width="1.2" stroke-linecap="butt"/>
<line x1="226.20" y1="678.80" x2="226.20" y2="681.80" stroke="#0a0a0a" stroke-width="1.2" stroke-linecap="butt"/>
<line x1="245.77" y1="678.80" x2="245.77" y2="681.80" stroke="#0a0a0a" stroke-width="1.2" stroke-linecap="butt"/>
<text x="69.60" y="692.50" font-size="8.3" text-anchor="middle" font-weight="normal" fill="#1c1c1c" >8</text>
<text x="108.75" y="692.50" font-size="8.3" text-anchor="middle" font-weight="normal" fill="#1c1c1c" >9</text>
<text x="147.90" y="692.50" font-size="8.3" text-anchor="middle" font-weight="normal" fill="#1c1c1c" >10</text>
<text x="187.05" y="692.50" font-size="8.3" text-anchor="middle" font-weight="normal" fill="#1c1c1c" >11</text>
<text x="226.20" y="692.50" font-size="8.3" text-anchor="middle" font-weight="normal" fill="#1c1c1c" >12</text>
<g transform="translate(149.30,706.60) scale(0.8384,1)"><text x="0" y="0" font-size="10" text-anchor="middle" font-weight="normal" fill="#1c1c1c">Days</text></g>
<g transform="translate(19.10,642.60) rotate(-90) scale(0.8902,1)"><text x="0" y="0" font-size="10" fill="#1c1c1c">Tumor volume (mm<tspan dy="-3.8" font-size="7.50">3</tspan><tspan dy="3.8">)</tspan></text></g>
<polyline points="69.60,626.55 108.75,643.69 147.90,639.93 187.05,635.75 226.20,622.37" fill="none" stroke="#8a0c2e" stroke-width="1.3" stroke-linejoin="round"/>
<polyline points="69.60,637.84 108.75,637.00 147.90,614.43 187.05,588.93 226.20,552.56" fill="none" stroke="#8a0c2e" stroke-width="1.3" stroke-linejoin="round" stroke-dasharray="1.5 1.7"/>
<polyline points="69.60,628.64 108.75,621.53 147.90,615.68 187.05,588.93 226.20,564.69" fill="none" stroke="#8a0c2e" stroke-width="1.3" stroke-linejoin="round"/>
<polyline points="69.60,629.89 108.75,616.10 147.90,595.62 187.05,574.72 226.20,553.40" fill="none" stroke="#8a0c2e" stroke-width="1.3" stroke-linejoin="round" stroke-dasharray="4.3 2.3"/>
<line x1="147.90" y1="634.91" x2="147.90" y2="643.69" stroke="#0a0a0a" stroke-width="1.1" stroke-linecap="butt"/>
<line x1="145.50" y1="634.91" x2="150.30" y2="634.91" stroke="#0a0a0a" stroke-width="1.1" stroke-linecap="butt"/>
<line x1="145.50" y1="643.69" x2="150.30" y2="643.69" stroke="#0a0a0a" stroke-width="1.1" stroke-linecap="butt"/>
<line x1="187.05" y1="631.15" x2="187.05" y2="639.51" stroke="#0a0a0a" stroke-width="1.1" stroke-linecap="butt"/>
<line x1="184.65" y1="631.15" x2="189.45" y2="631.15" stroke="#0a0a0a" stroke-width="1.1" stroke-linecap="butt"/>
<line x1="184.65" y1="639.51" x2="189.45" y2="639.51" stroke="#0a0a0a" stroke-width="1.1" stroke-linecap="butt"/>
<line x1="226.20" y1="614.01" x2="226.20" y2="629.48" stroke="#0a0a0a" stroke-width="1.1" stroke-linecap="butt"/>
<line x1="223.80" y1="614.01" x2="228.60" y2="614.01" stroke="#0a0a0a" stroke-width="1.1" stroke-linecap="butt"/>
<line x1="223.80" y1="629.48" x2="228.60" y2="629.48" stroke="#0a0a0a" stroke-width="1.1" stroke-linecap="butt"/>
<line x1="69.60" y1="617.77" x2="69.60" y2="648.70" stroke="#0a0a0a" stroke-width="1.1" stroke-linecap="butt"/>
<line x1="67.20" y1="617.77" x2="72.00" y2="617.77" stroke="#0a0a0a" stroke-width="1.1" stroke-linecap="butt"/>
<line x1="67.20" y1="648.70" x2="72.00" y2="648.70" stroke="#0a0a0a" stroke-width="1.1" stroke-linecap="butt"/>
<line x1="108.75" y1="630.31" x2="108.75" y2="647.87" stroke="#0a0a0a" stroke-width="1.1" stroke-linecap="butt"/>
<line x1="106.35" y1="630.31" x2="111.15" y2="630.31" stroke="#0a0a0a" stroke-width="1.1" stroke-linecap="butt"/>
<line x1="106.35" y1="647.87" x2="111.15" y2="647.87" stroke="#0a0a0a" stroke-width="1.1" stroke-linecap="butt"/>
<line x1="147.90" y1="605.23" x2="147.90" y2="624.04" stroke="#0a0a0a" stroke-width="1.1" stroke-linecap="butt"/>
<line x1="145.50" y1="605.23" x2="150.30" y2="605.23" stroke="#0a0a0a" stroke-width="1.1" stroke-linecap="butt"/>
<line x1="145.50" y1="624.04" x2="150.30" y2="624.04" stroke="#0a0a0a" stroke-width="1.1" stroke-linecap="butt"/>
<line x1="187.05" y1="583.91" x2="187.05" y2="592.27" stroke="#0a0a0a" stroke-width="1.1" stroke-linecap="butt"/>
<line x1="184.65" y1="583.91" x2="189.45" y2="583.91" stroke="#0a0a0a" stroke-width="1.1" stroke-linecap="butt"/>
<line x1="184.65" y1="592.27" x2="189.45" y2="592.27" stroke="#0a0a0a" stroke-width="1.1" stroke-linecap="butt"/>
<line x1="226.20" y1="557.58" x2="226.20" y2="572.21" stroke="#0a0a0a" stroke-width="1.1" stroke-linecap="butt"/>
<line x1="223.80" y1="557.58" x2="228.60" y2="557.58" stroke="#0a0a0a" stroke-width="1.1" stroke-linecap="butt"/>
<line x1="223.80" y1="572.21" x2="228.60" y2="572.21" stroke="#0a0a0a" stroke-width="1.1" stroke-linecap="butt"/>
<line x1="69.60" y1="614.01" x2="69.60" y2="637.00" stroke="#0a0a0a" stroke-width="1.1" stroke-linecap="butt"/>
<line x1="67.20" y1="614.01" x2="72.00" y2="614.01" stroke="#0a0a0a" stroke-width="1.1" stroke-linecap="butt"/>
<line x1="67.20" y1="637.00" x2="72.00" y2="637.00" stroke="#0a0a0a" stroke-width="1.1" stroke-linecap="butt"/>
<line x1="108.75" y1="603.14" x2="108.75" y2="628.64" stroke="#0a0a0a" stroke-width="1.1" stroke-linecap="butt"/>
<line x1="106.35" y1="603.14" x2="111.15" y2="603.14" stroke="#0a0a0a" stroke-width="1.1" stroke-linecap="butt"/>
<line x1="106.35" y1="628.64" x2="111.15" y2="628.64" stroke="#0a0a0a" stroke-width="1.1" stroke-linecap="butt"/>
<line x1="147.90" y1="580.15" x2="147.90" y2="611.92" stroke="#0a0a0a" stroke-width="1.1" stroke-linecap="butt"/>
<line x1="145.50" y1="580.15" x2="150.30" y2="580.15" stroke="#0a0a0a" stroke-width="1.1" stroke-linecap="butt"/>
<line x1="145.50" y1="611.92" x2="150.30" y2="611.92" stroke="#0a0a0a" stroke-width="1.1" stroke-linecap="butt"/>
<line x1="187.05" y1="559.67" x2="187.05" y2="588.93" stroke="#0a0a0a" stroke-width="1.1" stroke-linecap="butt"/>
<line x1="184.65" y1="559.67" x2="189.45" y2="559.67" stroke="#0a0a0a" stroke-width="1.1" stroke-linecap="butt"/>
<line x1="184.65" y1="588.93" x2="189.45" y2="588.93" stroke="#0a0a0a" stroke-width="1.1" stroke-linecap="butt"/>
<line x1="226.20" y1="532.50" x2="226.20" y2="574.30" stroke="#0a0a0a" stroke-width="1.1" stroke-linecap="butt"/>
<line x1="223.80" y1="532.50" x2="228.60" y2="532.50" stroke="#0a0a0a" stroke-width="1.1" stroke-linecap="butt"/>
<line x1="223.80" y1="574.30" x2="228.60" y2="574.30" stroke="#0a0a0a" stroke-width="1.1" stroke-linecap="butt"/>
<polygon points="69.60,622.23 73.80,629.43 65.40,629.43" fill="#a8042c"/>
<polygon points="108.75,639.37 112.95,646.57 104.55,646.57" fill="#a8042c"/>
<polygon points="147.90,635.61 152.10,642.81 143.70,642.81" fill="#a8042c"/>
<polygon points="187.05,631.43 191.25,638.63 182.85,638.63" fill="#a8042c"/>
<polygon points="226.20,618.05 230.40,625.25 222.00,625.25" fill="#a8042c"/>
<polygon points="69.60,633.14 74.50,637.84 69.60,642.54 64.70,637.84" fill="none" stroke="#7c1230" stroke-width="1.5"/>
<circle cx="69.60" cy="637.84" r="0.9" fill="#7c1230"/>
<polygon points="108.75,632.30 113.65,637.00 108.75,641.70 103.85,637.00" fill="none" stroke="#7c1230" stroke-width="1.5"/>
<circle cx="108.75" cy="637.00" r="0.9" fill="#7c1230"/>
<polygon points="147.90,609.73 152.80,614.43 147.90,619.13 143.00,614.43" fill="none" stroke="#7c1230" stroke-width="1.5"/>
<circle cx="147.90" cy="614.43" r="0.9" fill="#7c1230"/>
<polygon points="187.05,584.23 191.95,588.93 187.05,593.63 182.15,588.93" fill="none" stroke="#7c1230" stroke-width="1.5"/>
<circle cx="187.05" cy="588.93" r="0.9" fill="#7c1230"/>
<polygon points="226.20,547.86 231.10,552.56 226.20,557.26 221.30,552.56" fill="none" stroke="#7c1230" stroke-width="1.5"/>
<circle cx="226.20" cy="552.56" r="0.9" fill="#7c1230"/>
<circle cx="69.60" cy="628.64" r="4.00" fill="#a8042c"/>
<circle cx="108.75" cy="621.53" r="4.00" fill="#a8042c"/>
<circle cx="147.90" cy="615.68" r="4.00" fill="#a8042c"/>
<circle cx="187.05" cy="588.93" r="4.00" fill="#a8042c"/>
<circle cx="226.20" cy="564.69" r="4.00" fill="#a8042c"/>
<circle cx="69.60" cy="629.89" r="3.70" fill="none" stroke="#7c1230" stroke-width="1.45"/>
<circle cx="108.75" cy="616.10" r="3.70" fill="none" stroke="#7c1230" stroke-width="1.45"/>
<circle cx="147.90" cy="595.62" r="3.70" fill="none" stroke="#7c1230" stroke-width="1.45"/>
<circle cx="187.05" cy="574.72" r="3.70" fill="none" stroke="#7c1230" stroke-width="1.45"/>
<circle cx="226.20" cy="553.40" r="3.70" fill="none" stroke="#7c1230" stroke-width="1.45"/>
<line x1="53.80" y1="519.60" x2="76.60" y2="519.60" stroke="#8a0c2e" stroke-width="1.5" stroke-linecap="butt"/>
<polygon points="65.20,515.37 69.32,522.42 61.08,522.42" fill="#a8042c"/>
<text x="81.75" y="522.65" font-size="8.4" text-anchor="start" font-weight="normal" fill="#1c1c1c" >+ PMPs</text>
<line x1="53.80" y1="537.50" x2="76.60" y2="537.50" stroke="#8a0c2e" stroke-width="1.5" stroke-linecap="butt" stroke-dasharray="1.5 1.5"/>
<polygon points="65.20,533.46 69.41,537.50 65.20,541.54 60.99,537.50" fill="none" stroke="#7c1230" stroke-width="1.5"/>
<circle cx="65.20" cy="537.50" r="0.9" fill="#7c1230"/>
<text x="81.75" y="540.55" font-size="8.4" text-anchor="start" font-weight="normal" fill="#1c1c1c" >- PMPs</text>
<line x1="53.80" y1="554.60" x2="76.60" y2="554.60" stroke="#8a0c2e" stroke-width="1.5" stroke-linecap="butt"/>
<circle cx="65.20" cy="554.60" r="3.44" fill="#a8042c"/>
<text x="81.75" y="557.65" font-size="8.4" text-anchor="start" font-weight="normal" fill="#1c1c1c" >+ PMPs + ant-miR-24</text>
<line x1="53.80" y1="571.40" x2="76.60" y2="571.40" stroke="#8a0c2e" stroke-width="1.5" stroke-linecap="butt" stroke-dasharray="4.3 2.5"/>
<circle cx="65.20" cy="571.40" r="3.18" fill="none" stroke="#7c1230" stroke-width="1.45"/>
<text x="81.75" y="574.45" font-size="8.4" text-anchor="start" font-weight="normal" fill="#1c1c1c" >- PMPs + ant-miR-24</text>
<line x1="152.50" y1="617.50" x2="152.50" y2="635.00" stroke="#0a0a0a" stroke-width="1.2" stroke-linecap="butt"/>
<line x1="150.00" y1="617.50" x2="152.50" y2="617.50" stroke="#0a0a0a" stroke-width="1.2" stroke-linecap="butt"/>
<line x1="147.00" y1="635.00" x2="152.50" y2="635.00" stroke="#0a0a0a" stroke-width="1.2" stroke-linecap="butt"/>
<circle cx="156.00" cy="626.00" r="1.15" fill="#111"/>
<line x1="192.50" y1="592.50" x2="192.50" y2="631.30" stroke="#0a0a0a" stroke-width="1.2" stroke-linecap="butt"/>
<line x1="190.00" y1="592.50" x2="192.50" y2="592.50" stroke="#0a0a0a" stroke-width="1.2" stroke-linecap="butt"/>
<line x1="186.00" y1="631.30" x2="192.50" y2="631.30" stroke="#0a0a0a" stroke-width="1.2" stroke-linecap="butt"/>
<circle cx="196.20" cy="613.70" r="1.15" fill="#111"/>
<line x1="236.50" y1="565.40" x2="236.50" y2="622.50" stroke="#0a0a0a" stroke-width="1.05" stroke-linecap="butt"/>
<line x1="234.00" y1="565.40" x2="236.50" y2="565.40" stroke="#0a0a0a" stroke-width="1.1" stroke-linecap="butt"/>
<line x1="238.50" y1="556.20" x2="238.50" y2="622.50" stroke="#0a0a0a" stroke-width="1.05" stroke-linecap="butt"/>
<line x1="236.00" y1="556.20" x2="238.50" y2="556.20" stroke="#0a0a0a" stroke-width="1.1" stroke-linecap="butt"/>
<line x1="240.50" y1="552.10" x2="240.50" y2="622.50" stroke="#0a0a0a" stroke-width="1.05" stroke-linecap="butt"/>
<line x1="238.00" y1="552.10" x2="240.50" y2="552.10" stroke="#0a0a0a" stroke-width="1.1" stroke-linecap="butt"/>
<line x1="233.30" y1="622.50" x2="241.00" y2="622.50" stroke="#0a0a0a" stroke-width="1.1" stroke-linecap="butt"/>
<circle cx="245.50" cy="596.80" r="1.15" fill="#111"/>
<g transform="translate(268.40,513.30) scale(0.9,1)"><text x="0" y="0" font-size="13.2" font-weight="bold" fill="#000">H</text></g>
<g transform="translate(399.10,510.50) scale(1.0100,1)"><text x="0" y="0" font-size="9.9" text-anchor="middle" font-weight="bold" fill="#000">MC-38</text></g>
<line x1="305.80" y1="530.80" x2="305.80" y2="678.30" stroke="#0a0a0a" stroke-width="1.5" stroke-linecap="butt"/>
<line x1="305.20" y1="677.70" x2="492.50" y2="677.70" stroke="#0a0a0a" stroke-width="1.5" stroke-linecap="butt"/>
<line x1="302.00" y1="677.70" x2="305.80" y2="677.70" stroke="#0a0a0a" stroke-width="1.3" stroke-linecap="butt"/>
<text x="299.80" y="680.45" font-size="8.3" text-anchor="end" font-weight="normal" fill="#1c1c1c" >0</text>
<line x1="302.00" y1="659.70" x2="305.80" y2="659.70" stroke="#0a0a0a" stroke-width="1.3" stroke-linecap="butt"/>
<text x="299.80" y="662.45" font-size="8.3" text-anchor="end" font-weight="normal" fill="#1c1c1c" >200</text>
<line x1="302.00" y1="641.70" x2="305.80" y2="641.70" stroke="#0a0a0a" stroke-width="1.3" stroke-linecap="butt"/>
<text x="299.80" y="644.45" font-size="8.3" text-anchor="end" font-weight="normal" fill="#1c1c1c" >400</text>
<line x1="302.00" y1="623.70" x2="305.80" y2="623.70" stroke="#0a0a0a" stroke-width="1.3" stroke-linecap="butt"/>
<text x="299.80" y="626.45" font-size="8.3" text-anchor="end" font-weight="normal" fill="#1c1c1c" >600</text>
<line x1="302.00" y1="605.70" x2="305.80" y2="605.70" stroke="#0a0a0a" stroke-width="1.3" stroke-linecap="butt"/>
<text x="299.80" y="608.45" font-size="8.3" text-anchor="end" font-weight="normal" fill="#1c1c1c" >800</text>
<line x1="302.00" y1="587.70" x2="305.80" y2="587.70" stroke="#0a0a0a" stroke-width="1.3" stroke-linecap="butt"/>
<text x="299.80" y="590.45" font-size="8.3" text-anchor="end" font-weight="normal" fill="#1c1c1c" >1000</text>
<line x1="302.00" y1="569.70" x2="305.80" y2="569.70" stroke="#0a0a0a" stroke-width="1.3" stroke-linecap="butt"/>
<text x="299.80" y="572.45" font-size="8.3" text-anchor="end" font-weight="normal" fill="#1c1c1c" >1200</text>
<line x1="302.00" y1="551.70" x2="305.80" y2="551.70" stroke="#0a0a0a" stroke-width="1.3" stroke-linecap="butt"/>
<text x="299.80" y="554.45" font-size="8.3" text-anchor="end" font-weight="normal" fill="#1c1c1c" >1400</text>
<line x1="302.00" y1="533.70" x2="305.80" y2="533.70" stroke="#0a0a0a" stroke-width="1.3" stroke-linecap="butt"/>
<text x="299.80" y="536.45" font-size="8.3" text-anchor="end" font-weight="normal" fill="#1c1c1c" >1600</text>
<line x1="323.30" y1="677.70" x2="323.30" y2="680.70" stroke="#0a0a0a" stroke-width="1.2" stroke-linecap="butt"/>
<line x1="359.80" y1="677.70" x2="359.80" y2="680.70" stroke="#0a0a0a" stroke-width="1.2" stroke-linecap="butt"/>
<line x1="396.30" y1="677.70" x2="396.30" y2="680.70" stroke="#0a0a0a" stroke-width="1.2" stroke-linecap="butt"/>
<line x1="432.80" y1="677.70" x2="432.80" y2="680.70" stroke="#0a0a0a" stroke-width="1.2" stroke-linecap="butt"/>
<line x1="469.30" y1="677.70" x2="469.30" y2="680.70" stroke="#0a0a0a" stroke-width="1.2" stroke-linecap="butt"/>
<line x1="487.55" y1="677.70" x2="487.55" y2="680.70" stroke="#0a0a0a" stroke-width="1.2" stroke-linecap="butt"/>
<text x="323.30" y="691.20" font-size="8.3" text-anchor="middle" font-weight="normal" fill="#1c1c1c" >8</text>
<text x="359.80" y="691.20" font-size="8.3" text-anchor="middle" font-weight="normal" fill="#1c1c1c" >9</text>
<text x="396.30" y="691.20" font-size="8.3" text-anchor="middle" font-weight="normal" fill="#1c1c1c" >10</text>
<text x="432.80" y="691.20" font-size="8.3" text-anchor="middle" font-weight="normal" fill="#1c1c1c" >11</text>
<text x="469.30" y="691.20" font-size="8.3" text-anchor="middle" font-weight="normal" fill="#1c1c1c" >12</text>
<g transform="translate(399.50,706.60) scale(0.8384,1)"><text x="0" y="0" font-size="10" text-anchor="middle" font-weight="normal" fill="#1c1c1c">Days</text></g>
<g transform="translate(274.90,645.20) rotate(-90) scale(0.8902,1)"><text x="0" y="0" font-size="10" fill="#1c1c1c">Tumor volume (mm<tspan dy="-3.8" font-size="7.50">3</tspan><tspan dy="3.8">)</tspan></text></g>
<polyline points="323.30,658.17 359.80,639.00 396.30,623.97 432.80,644.40 469.30,647.82" fill="none" stroke="#243e6a" stroke-width="1.3" stroke-linejoin="round"/>
<polyline points="323.30,641.79 359.80,626.49 396.30,613.26 432.80,595.17 469.30,565.83" fill="none" stroke="#243e6a" stroke-width="1.3" stroke-linejoin="round" stroke-dasharray="1.5 1.7"/>
<polyline points="323.30,658.17 359.80,646.47 396.30,638.19 432.80,617.22 469.30,603.27" fill="none" stroke="#243e6a" stroke-width="1.3" stroke-linejoin="round"/>
<polyline points="323.30,641.79 359.80,616.50 396.30,613.26 432.80,595.17 469.30,558.18" fill="none" stroke="#243e6a" stroke-width="1.3" stroke-linejoin="round" stroke-dasharray="4.3 2.3"/>
<line x1="432.80" y1="637.47" x2="432.80" y2="650.70" stroke="#0a0a0a" stroke-width="1.1" stroke-linecap="butt"/>
<line x1="430.40" y1="637.47" x2="435.20" y2="637.47" stroke="#0a0a0a" stroke-width="1.1" stroke-linecap="butt"/>
<line x1="430.40" y1="650.70" x2="435.20" y2="650.70" stroke="#0a0a0a" stroke-width="1.1" stroke-linecap="butt"/>
<line x1="469.30" y1="642.42" x2="469.30" y2="652.50" stroke="#0a0a0a" stroke-width="1.1" stroke-linecap="butt"/>
<line x1="466.90" y1="642.42" x2="471.70" y2="642.42" stroke="#0a0a0a" stroke-width="1.1" stroke-linecap="butt"/>
<line x1="466.90" y1="652.50" x2="471.70" y2="652.50" stroke="#0a0a0a" stroke-width="1.1" stroke-linecap="butt"/>
<line x1="323.30" y1="637.20" x2="323.30" y2="646.20" stroke="#0a0a0a" stroke-width="1.1" stroke-linecap="butt"/>
<line x1="320.90" y1="637.20" x2="325.70" y2="637.20" stroke="#0a0a0a" stroke-width="1.1" stroke-linecap="butt"/>
<line x1="320.90" y1="646.20" x2="325.70" y2="646.20" stroke="#0a0a0a" stroke-width="1.1" stroke-linecap="butt"/>
<line x1="359.80" y1="620.10" x2="359.80" y2="634.50" stroke="#0a0a0a" stroke-width="1.1" stroke-linecap="butt"/>
<line x1="357.40" y1="620.10" x2="362.20" y2="620.10" stroke="#0a0a0a" stroke-width="1.1" stroke-linecap="butt"/>
<line x1="357.40" y1="634.50" x2="362.20" y2="634.50" stroke="#0a0a0a" stroke-width="1.1" stroke-linecap="butt"/>
<line x1="469.30" y1="547.02" x2="469.30" y2="587.70" stroke="#0a0a0a" stroke-width="1.1" stroke-linecap="butt"/>
<line x1="466.90" y1="547.02" x2="471.70" y2="547.02" stroke="#0a0a0a" stroke-width="1.1" stroke-linecap="butt"/>
<line x1="466.90" y1="587.70" x2="471.70" y2="587.70" stroke="#0a0a0a" stroke-width="1.1" stroke-linecap="butt"/>
<line x1="323.30" y1="652.23" x2="323.30" y2="662.22" stroke="#0a0a0a" stroke-width="1.1" stroke-linecap="butt"/>
<line x1="320.90" y1="652.23" x2="325.70" y2="652.23" stroke="#0a0a0a" stroke-width="1.1" stroke-linecap="butt"/>
<line x1="320.90" y1="662.22" x2="325.70" y2="662.22" stroke="#0a0a0a" stroke-width="1.1" stroke-linecap="butt"/>
<line x1="359.80" y1="641.70" x2="359.80" y2="651.60" stroke="#0a0a0a" stroke-width="1.1" stroke-linecap="butt"/>
<line x1="357.40" y1="641.70" x2="362.20" y2="641.70" stroke="#0a0a0a" stroke-width="1.1" stroke-linecap="butt"/>
<line x1="357.40" y1="651.60" x2="362.20" y2="651.60" stroke="#0a0a0a" stroke-width="1.1" stroke-linecap="butt"/>
<line x1="396.30" y1="634.50" x2="396.30" y2="641.70" stroke="#0a0a0a" stroke-width="1.1" stroke-linecap="butt"/>
<line x1="393.90" y1="634.50" x2="398.70" y2="634.50" stroke="#0a0a0a" stroke-width="1.1" stroke-linecap="butt"/>
<line x1="393.90" y1="641.70" x2="398.70" y2="641.70" stroke="#0a0a0a" stroke-width="1.1" stroke-linecap="butt"/>
<line x1="432.80" y1="612.90" x2="432.80" y2="623.70" stroke="#0a0a0a" stroke-width="1.1" stroke-linecap="butt"/>
<line x1="430.40" y1="612.90" x2="435.20" y2="612.90" stroke="#0a0a0a" stroke-width="1.1" stroke-linecap="butt"/>
<line x1="430.40" y1="623.70" x2="435.20" y2="623.70" stroke="#0a0a0a" stroke-width="1.1" stroke-linecap="butt"/>
<line x1="469.30" y1="595.17" x2="469.30" y2="611.10" stroke="#0a0a0a" stroke-width="1.1" stroke-linecap="butt"/>
<line x1="466.90" y1="595.17" x2="471.70" y2="595.17" stroke="#0a0a0a" stroke-width="1.1" stroke-linecap="butt"/>
<line x1="466.90" y1="611.10" x2="471.70" y2="611.10" stroke="#0a0a0a" stroke-width="1.1" stroke-linecap="butt"/>
<line x1="359.80" y1="603.45" x2="359.80" y2="627.30" stroke="#0a0a0a" stroke-width="1.1" stroke-linecap="butt"/>
<line x1="357.40" y1="603.45" x2="362.20" y2="603.45" stroke="#0a0a0a" stroke-width="1.1" stroke-linecap="butt"/>
<line x1="357.40" y1="627.30" x2="362.20" y2="627.30" stroke="#0a0a0a" stroke-width="1.1" stroke-linecap="butt"/>
<line x1="396.30" y1="601.65" x2="396.30" y2="623.70" stroke="#0a0a0a" stroke-width="1.1" stroke-linecap="butt"/>
<line x1="393.90" y1="601.65" x2="398.70" y2="601.65" stroke="#0a0a0a" stroke-width="1.1" stroke-linecap="butt"/>
<line x1="393.90" y1="623.70" x2="398.70" y2="623.70" stroke="#0a0a0a" stroke-width="1.1" stroke-linecap="butt"/>
<line x1="432.80" y1="578.70" x2="432.80" y2="614.70" stroke="#0a0a0a" stroke-width="1.1" stroke-linecap="butt"/>
<line x1="430.40" y1="578.70" x2="435.20" y2="578.70" stroke="#0a0a0a" stroke-width="1.1" stroke-linecap="butt"/>
<line x1="430.40" y1="614.70" x2="435.20" y2="614.70" stroke="#0a0a0a" stroke-width="1.1" stroke-linecap="butt"/>
<line x1="469.30" y1="537.03" x2="469.30" y2="580.32" stroke="#0a0a0a" stroke-width="1.1" stroke-linecap="butt"/>
<line x1="466.90" y1="537.03" x2="471.70" y2="537.03" stroke="#0a0a0a" stroke-width="1.1" stroke-linecap="butt"/>
<line x1="466.90" y1="580.32" x2="471.70" y2="580.32" stroke="#0a0a0a" stroke-width="1.1" stroke-linecap="butt"/>
<polygon points="323.30,653.85 327.50,661.05 319.10,661.05" fill="#2d4c7e"/>
<polygon points="359.80,634.68 364.00,641.88 355.60,641.88" fill="#2d4c7e"/>
<polygon points="396.30,619.65 400.50,626.85 392.10,626.85" fill="#2d4c7e"/>
<polygon points="432.80,640.08 437.00,647.28 428.60,647.28" fill="#2d4c7e"/>
<polygon points="469.30,643.50 473.50,650.70 465.10,650.70" fill="#2d4c7e"/>
<polygon points="323.30,637.09 328.20,641.79 323.30,646.49 318.40,641.79" fill="none" stroke="#1f3a66" stroke-width="1.5"/>
<circle cx="323.30" cy="641.79" r="0.9" fill="#1f3a66"/>
<polygon points="359.80,621.79 364.70,626.49 359.80,631.19 354.90,626.49" fill="none" stroke="#1f3a66" stroke-width="1.5"/>
<circle cx="359.80" cy="626.49" r="0.9" fill="#1f3a66"/>
<polygon points="396.30,608.56 401.20,613.26 396.30,617.96 391.40,613.26" fill="none" stroke="#1f3a66" stroke-width="1.5"/>
<circle cx="396.30" cy="613.26" r="0.9" fill="#1f3a66"/>
<polygon points="432.80,590.47 437.70,595.17 432.80,599.87 427.90,595.17" fill="none" stroke="#1f3a66" stroke-width="1.5"/>
<circle cx="432.80" cy="595.17" r="0.9" fill="#1f3a66"/>
<polygon points="469.30,561.13 474.20,565.83 469.30,570.53 464.40,565.83" fill="none" stroke="#1f3a66" stroke-width="1.5"/>
<circle cx="469.30" cy="565.83" r="0.9" fill="#1f3a66"/>
<circle cx="323.30" cy="658.17" r="4.00" fill="#2d4c7e"/>
<circle cx="359.80" cy="646.47" r="4.00" fill="#2d4c7e"/>
<circle cx="396.30" cy="638.19" r="4.00" fill="#2d4c7e"/>
<circle cx="432.80" cy="617.22" r="4.00" fill="#2d4c7e"/>
<circle cx="469.30" cy="603.27" r="4.00" fill="#2d4c7e"/>
<circle cx="323.30" cy="641.79" r="3.70" fill="none" stroke="#1f3a66" stroke-width="1.45"/>
<circle cx="359.80" cy="616.50" r="3.70" fill="none" stroke="#1f3a66" stroke-width="1.45"/>
<circle cx="396.30" cy="613.26" r="3.70" fill="none" stroke="#1f3a66" stroke-width="1.45"/>
<circle cx="432.80" cy="595.17" r="3.70" fill="none" stroke="#1f3a66" stroke-width="1.45"/>
<circle cx="469.30" cy="558.18" r="3.70" fill="none" stroke="#1f3a66" stroke-width="1.45"/>
<line x1="312.00" y1="525.90" x2="334.60" y2="525.90" stroke="#243e6a" stroke-width="1.5" stroke-linecap="butt"/>
<polygon points="323.30,521.67 327.42,528.72 319.18,528.72" fill="#2d4c7e"/>
<text x="340.00" y="528.95" font-size="8.4" text-anchor="start" font-weight="normal" fill="#1c1c1c" >+ PMPs</text>
<line x1="312.00" y1="543.60" x2="334.60" y2="543.60" stroke="#243e6a" stroke-width="1.5" stroke-linecap="butt" stroke-dasharray="1.5 1.5"/>
<polygon points="323.30,539.56 327.51,543.60 323.30,547.64 319.09,543.60" fill="none" stroke="#1f3a66" stroke-width="1.5"/>
<circle cx="323.30" cy="543.60" r="0.9" fill="#1f3a66"/>
<text x="340.00" y="546.65" font-size="8.4" text-anchor="start" font-weight="normal" fill="#1c1c1c" >- PMPs</text>
<line x1="312.00" y1="560.90" x2="334.60" y2="560.90" stroke="#243e6a" stroke-width="1.5" stroke-linecap="butt"/>
<circle cx="323.30" cy="560.90" r="3.44" fill="#2d4c7e"/>
<text x="340.00" y="563.95" font-size="8.4" text-anchor="start" font-weight="normal" fill="#1c1c1c" >+ PMPs + ant-miR-24</text>
<line x1="312.00" y1="577.70" x2="334.60" y2="577.70" stroke="#243e6a" stroke-width="1.5" stroke-linecap="butt" stroke-dasharray="4.3 2.5"/>
<circle cx="323.30" cy="577.70" r="3.18" fill="none" stroke="#1f3a66" stroke-width="1.45"/>
<text x="340.00" y="580.75" font-size="8.4" text-anchor="start" font-weight="normal" fill="#1c1c1c" >- PMPs + ant-miR-24</text>
<line x1="440.50" y1="615.20" x2="440.50" y2="637.40" stroke="#0a0a0a" stroke-width="1.2" stroke-linecap="butt"/>
<line x1="438.00" y1="615.20" x2="440.50" y2="615.20" stroke="#0a0a0a" stroke-width="1.2" stroke-linecap="butt"/>
<line x1="438.00" y1="637.40" x2="440.50" y2="637.40" stroke="#0a0a0a" stroke-width="1.2" stroke-linecap="butt"/>
<circle cx="446.45" cy="626.80" r="1.15" fill="#111"/>
<circle cx="450.35" cy="626.80" r="1.15" fill="#111"/>
<line x1="476.50" y1="598.60" x2="476.50" y2="641.40" stroke="#0a0a0a" stroke-width="1.05" stroke-linecap="butt"/>
<line x1="474.30" y1="598.60" x2="476.50" y2="598.60" stroke="#0a0a0a" stroke-width="1.1" stroke-linecap="butt"/>
<line x1="479.50" y1="565.90" x2="479.50" y2="641.40" stroke="#0a0a0a" stroke-width="1.05" stroke-linecap="butt"/>
<line x1="477.30" y1="565.90" x2="479.50" y2="565.90" stroke="#0a0a0a" stroke-width="1.1" stroke-linecap="butt"/>
<line x1="481.50" y1="555.00" x2="481.50" y2="641.40" stroke="#0a0a0a" stroke-width="1.05" stroke-linecap="butt"/>
<line x1="479.30" y1="555.00" x2="481.50" y2="555.00" stroke="#0a0a0a" stroke-width="1.1" stroke-linecap="butt"/>
<line x1="474.90" y1="641.40" x2="482.00" y2="641.40" stroke="#0a0a0a" stroke-width="1.1" stroke-linecap="butt"/>
<circle cx="486.55" cy="611.40" r="1.15" fill="#111"/>
<circle cx="490.45" cy="611.40" r="1.15" fill="#111"/>
<line x1="488.50" y1="565.90" x2="488.50" y2="598.00" stroke="#0a0a0a" stroke-width="1.05" stroke-linecap="butt"/>
<line x1="486.10" y1="565.90" x2="488.50" y2="565.90" stroke="#0a0a0a" stroke-width="1.1" stroke-linecap="butt"/>
<line x1="491.50" y1="555.00" x2="491.50" y2="598.00" stroke="#0a0a0a" stroke-width="1.05" stroke-linecap="butt"/>
<line x1="489.10" y1="555.00" x2="491.50" y2="555.00" stroke="#0a0a0a" stroke-width="1.1" stroke-linecap="butt"/>
<line x1="486.00" y1="598.00" x2="492.00" y2="598.00" stroke="#0a0a0a" stroke-width="1.1" stroke-linecap="butt"/>
<g transform="translate(494.10,581.20) scale(0.9014,1)"><text x="0" y="0" font-size="10.6" text-anchor="start" font-weight="normal" fill="#1c1c1c">n.s.</text></g>
<rect x="0" y="0" width="520" height="1.2" fill="#000"/>
<rect x="0" y="0" width="1.2" height="717" fill="#000"/>
<rect x="518.6" y="0" width="1.4" height="717" fill="#000"/>
<rect x="0" y="715.5" width="520" height="1.5" fill="#000"/>
</svg>
</body></html>
